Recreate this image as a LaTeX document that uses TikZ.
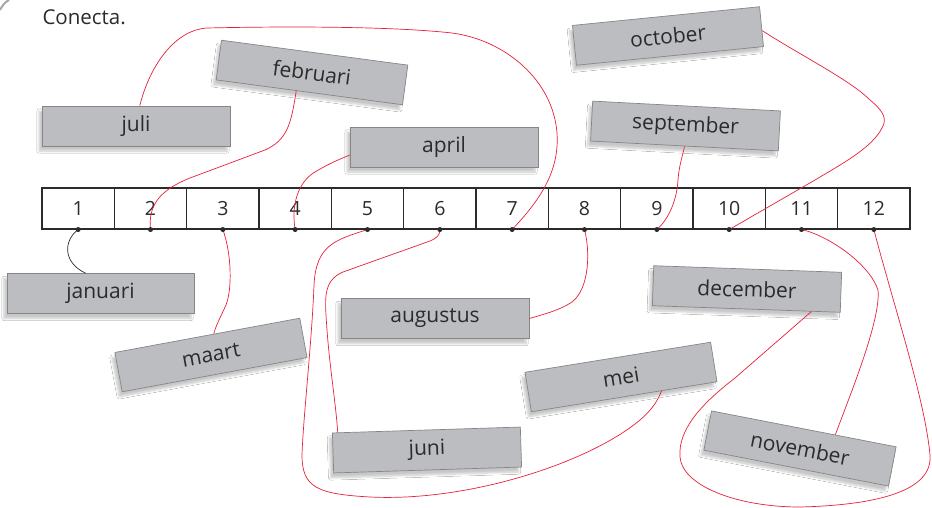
\documentclass[tikz,border=0pt]{standalone}
\usepackage{fontspec}
\setmainfont{Open Sans}
\usetikzlibrary{calc,shadows.blur}
\definecolor{boxfill}{HTML}{BCBDC1}
\definecolor{boxline}{HTML}{85868A}
\definecolor{conn}{HTML}{E8203A}
\definecolor{ink}{HTML}{2B2B2B}
\begin{document}
\begin{tikzpicture}[x=1pt,y=-1pt,
  month/.style={draw=boxline, line width=0.7pt, fill=boxfill, minimum width=188pt, minimum height=40pt,
    inner sep=0pt, text=ink, font=\fontsize{21}{23}\selectfont,
    blur shadow={shadow xshift=-3pt, shadow yshift=-5pt, shadow blur steps=8, shadow opacity=22}},
  cell/.style={draw=ink, line width=1.1pt, minimum width=72.33pt, minimum height=41pt, inner sep=0pt,
    font=\fontsize{19.5}{22}\selectfont, text=ink},
  link/.style={draw=conn, line width=0.7pt},
  blink/.style={draw=ink, line width=0.7pt},
  dotmark/.style={circle, fill=ink, inner sep=0pt, minimum size=5pt}]
\useasboundingbox (0,0) rectangle (932,508);
\fill[white] (0,0) rectangle (932,508);
\draw[gray!70, line width=2pt] (0,10) .. controls (2,6) and (5,2) .. (9,0);
\node[anchor=west, font=\fontsize{20.5}{23}\selectfont, text=ink] (title) at (39,17) {Conecta.};
% number line
\foreach \i in {1,...,12}
  \node[cell] (c\i) at ({42+72.333*(\i-0.5)}, 208.5) {\i};
% month cards
\node[month] (juli) at (136,126) {juli};
\node[month, rotate=-7.6] (feb) at (312,72.5) {februari};
\node[month] (apr) at (444,147) {april};
\node[month, rotate=5.7] (oct) at (668,36) {october};
\node[month, rotate=-3] (sep) at (685.5,126) {september};
\node[month, minimum width=187pt] (jan) at (100.5,293.5) {januari};
\node[month, rotate=10.5] (maart) at (211,355) {maart};
\node[month] (aug) at (435,318.5) {augustus};
\node[month, rotate=-2] (dec) at (747,289) {december};
\node[month, rotate=9.2] (mei) at (621,377) {mei};
\node[month, rotate=1.8] (juni) at (427,450) {juni};
\node[month, rotate=-11] (nov) at (800,448.5) {november};
% attachment points
\coordinate (pjan) at ($(jan.north west)!0.42!(jan.north east)$);
\coordinate (pjuli) at ($(juli.north west)!0.52!(juli.north east)$);
\coordinate (pfeb) at ($(feb.south west)!0.43!(feb.south east)$);
\coordinate (pmaart) at ($(maart.north west)!0.535!(maart.north east)$);
\coordinate (papr) at ($(apr.north west)!0.7!(apr.south west)$);
\coordinate (paug) at (aug.east);
\coordinate (psep) at (sep.south);
\coordinate (poct) at ($(oct.north east)!0.6!(oct.south east)$);
\coordinate (pdec) at ($(dec.south west)!0.845!(dec.south east)$);
\coordinate (pmei) at ($(mei.south west)!0.7!(mei.south east)$);
\coordinate (pjuni) at ($(juni.north west)!0.03!(juni.north east)$);
\coordinate (pnov) at ($(nov.north west)!0.67!(nov.north east)$);
% connectors
\draw[blink] (c1.south) .. controls (64,240) and (62,262) .. (pjan);
\draw[link] (pfeb) .. controls (291,125) and (287,140) .. (265,150) -- (190,178) .. controls (160,190) and (148,205) .. (c2.south);
\draw[link] (c3.south) .. controls (232,255) and (232,290) .. (226,305) .. controls (219,320) and (215,328) .. (pmaart);
\draw[link] (c4.south) .. controls (291,205) and (298,182) .. (315,172) .. controls (328,164) and (340,159) .. (papr);
\draw[link] (c5.south) .. controls (335,240) and (316,245) .. (314,285) .. controls (312,340) and (303,420) .. (302,455)
  .. controls (302,488) and (318,494) .. (370,497) .. controls (470,502) and (590,462) .. (640,420)
  .. controls (652,410) and (658,400) .. (pmei);
\draw[link] (c6.south) .. controls (440,235) and (437,238) .. (430,241) -- (343,272)
  .. controls (322,281) and (325,300) .. (327,330) .. controls (330,370) and (336,405) .. (pjuni);
\draw[link] (c7.south) .. controls (535,205) and (560,175) .. (557,133) .. controls (553,80) and (505,40) .. (452,33)
  .. controls (380,25) and (250,27) .. (207,28) .. controls (175,30) and (150,65) .. (pjuli);
\draw[link] (c8.south) .. controls (590,250) and (590,288) .. (572,302) .. controls (560,310) and (545,314) .. (paug);
\draw[link] (c9.south) .. controls (670,218) and (677,198) .. (678,180) .. controls (679,165) and (683,155) .. (psep);
\draw[link] (c10.south) -- (815,180) .. controls (840,165) and (872,148) .. (882,128)
  .. controls (888,118) and (882,110) .. (870,100) .. controls (850,80) and (800,55) .. (poct);
\draw[link] (c11.south) .. controls (830,236) and (870,265) .. (878,290) .. controls (881,320) and (850,395) .. (pnov);
\draw[link] (c12.south) .. controls (895,310) and (925,400) .. (930,455) .. controls (933,490) and (880,505) .. (800,507)
  .. controls (735,507) and (682,485) .. (680,457) .. controls (678,430) and (700,405) .. (735,378) -- (pdec);
% dots on top
\foreach \i in {1,...,12}
  \node[dotmark] (d\i) at (c\i.south) {};
\end{tikzpicture}
\end{document}
